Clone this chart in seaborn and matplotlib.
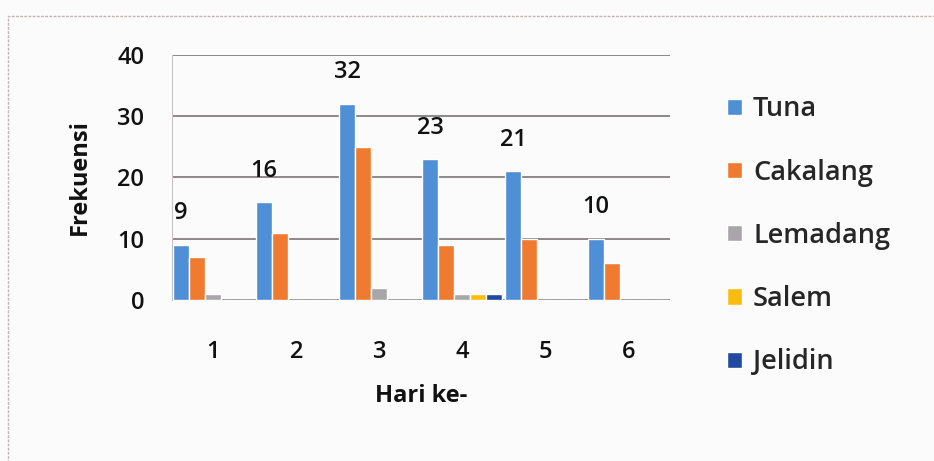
import matplotlib
matplotlib.use("Agg")
import matplotlib.pyplot as plt
from matplotlib.patches import Rectangle
import seaborn as sns
import pandas as pd

# Catch per day, by species
days = ["1", "2", "3", "4", "5", "6"]
species = ["Tuna", "Cakalang", "Lemadang", "Salem", "Jelidin"]
tuna = [9, 16, 32, 23, 21, 10]
cakalang = [7, 11, 25, 9, 10, 6]
lemadang = [1, 0, 2, 1, 0, 0]
salem = [0, 0, 0, 1, 0, 0]
jelidin = [0, 0, 0, 1, 0, 0]
yticks = [0, 10, 20, 30, 40]

colors = ["#4f8fd6", "#f07a30", "#a8a6a8", "#f9bd10", "#1f4aa0"]

series = [tuna, cakalang, lemadang, salem, jelidin]
df = pd.DataFrame(
    [(d, s, v[i]) for s, v in zip(species, series) for i, d in enumerate(days)],
    columns=["Hari", "Jenis", "Frekuensi"],
)

sns.set_theme(style="white")
plt.rcParams["font.family"] = ["Open Sans", "DejaVu Sans"]

fig = plt.figure(figsize=(9.34, 4.61), dpi=100, facecolor="#fcfbfb")
ax = fig.add_axes([0.184, 0.349, 0.533, 0.532])
ax.set_facecolor("#fcfbfb")

sns.barplot(
    data=df, x="Hari", y="Frekuensi", hue="Jenis", order=days,
    hue_order=species, palette=colors, width=0.97, ax=ax,
    saturation=1, legend=True,
)

ax.set_ylim(0, 40)
ax.set_xlim(-0.5, 5.5)
ax.set_yticks(yticks)
ax.yaxis.grid(True, color="#6e6a6a", linewidth=1.1)
ax.set_axisbelow(True)
for side in ["top", "right", "bottom"]:
    ax.spines[side].set_visible(False)
ax.spines["left"].set_color("#c9c4c4")
ax.spines["left"].set_linewidth(0.8)
ax.tick_params(axis="both", labelsize=17, colors="#111111")
ax.tick_params(axis="x", length=0, pad=29)
ax.tick_params(axis="y", length=4, width=0.9, color="#8a8585", pad=16)
for lab in ax.get_yticklabels() + ax.get_xticklabels():
    lab.set_fontweight("semibold")

ax.set_xlabel("Hari ke-", fontsize=17, fontweight="bold", labelpad=14, color="#111111")
ax.set_ylabel("Frekuensi", fontsize=17, fontweight="bold", labelpad=18, color="#111111")

# value labels over the Tuna bars
ax.bar_label(ax.containers[0], labels=[str(v) for v in tuna], padding=14,
             fontsize=17, fontweight="semibold", color="#111111", clip_on=False)

handles, labels = ax.get_legend_handles_labels()
ax.legend(handles, labels, loc="center left", bbox_to_anchor=(1.094, 0.262),
          frameon=False, prop={"size": 19.5, "weight": "semibold"},
          handlelength=0.55, handleheight=0.55,
          handletextpad=0.4, labelspacing=1.3, borderaxespad=0)

# outer chart border
fig.patches.append(Rectangle((0.009, -0.02), 1.1, 0.985, transform=fig.transFigure,
                             fill=False, edgecolor="#c9b0b4", linewidth=1.0,
                             linestyle=(0, (2, 1))))

fig.savefig("out.png", dpi=100, facecolor=fig.get_facecolor())
